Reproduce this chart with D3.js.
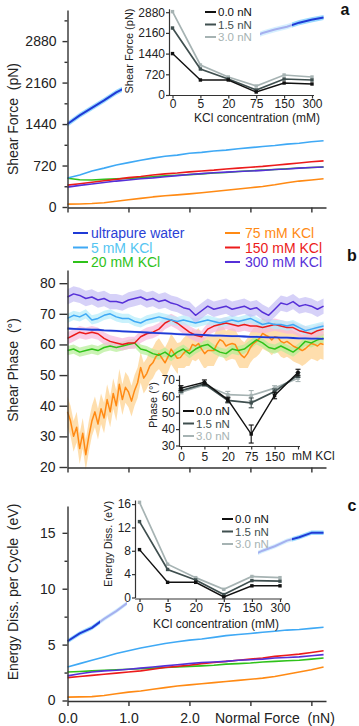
<!DOCTYPE html>
<html lang="en">
<head>
<meta charset="utf-8">
<title>Shear force, phase and energy dissipation vs normal force</title>
<script src="https://cdn.jsdelivr.net/npm/d3@7"></script>
<style>
  body { margin: 0; background: #fff; }
  svg text { white-space: pre; }
</style>
</head>
<body>
<div id="chart"></div>
<script>
// ---------- data ----------
// normal force samples (nN)
var forceA = [0, 0.2, 0.4, 0.6, 0.8, 1.0, 1.2, 1.4, 1.6, 1.8, 2.0, 2.2, 2.4, 2.6, 2.8, 3.0, 3.2, 3.4, 3.6, 3.8, 4.0, 4.2];
var forceB = [0, 0.1, 0.2, 0.3, 0.4, 0.5, 0.6, 0.7, 0.8, 0.9, 1.0, 1.1, 1.2, 1.3, 1.4, 1.5, 1.6, 1.7, 1.8, 1.9,
              2.0, 2.1, 2.2, 2.3, 2.4, 2.5, 2.6, 2.7, 2.8, 2.9, 3.0, 3.1, 3.2, 3.3, 3.4, 3.5, 3.6, 3.7, 3.8, 3.9,
              4.0, 4.1, 4.2];
var forceB75 = d3.range(0, 4.201, 0.05); // 75 mM phase was sampled twice as dense

var saltNames = ["ultrapure water", "5 mM KCl", "20 mM KCl", "75 mM KCl", "150 mM KCl", "300 mM KCl"];

// (a) shear force, pN
var shearWater = [1440, 1590, 1720, 1850, 1990, 2100, 2200, 2300, 2390, 2480, 2560, 2640, 2710, 2780, 2850, 2930, 3020, 3080, 3130, 3200, 3250, 3290];
var shear5   = [503, 555, 625, 675, 730, 770, 812, 848, 880, 900, 932, 948, 972, 988, 1012, 1030, 1050, 1068, 1092, 1108, 1132, 1150];
var shear20  = [500, 472, 470, 480, 490, 497, 510, 525, 540, 552, 562, 575, 590, 600, 615, 630, 640, 652, 665, 676, 686, 695];
var shear75  = [50, 52, 60, 75, 100, 125, 150, 175, 195, 210, 228, 248, 268, 290, 312, 335, 355, 385, 420, 450, 470, 490];
var shear150 = [380, 405, 430, 455, 480, 510, 530, 555, 575, 590, 610, 625, 640, 660, 675, 690, 705, 725, 745, 765, 785, 800];
var shear300 = [345, 375, 400, 425, 450, 470, 490, 505, 525, 545, 565, 580, 595, 605, 615, 625, 635, 650, 660, 675, 685, 695];

// (b) shear phase, degrees
var phaseWater = [65.2, 65.1, 65.0, 64.9, 64.8, 64.8, 64.6, 64.5, 64.4, 64.3, 64.2, 64.1, 64.0, 63.9, 63.8, 63.7, 63.6, 63.5, 63.4, 63.3,
                  63.2, 63.2, 63.1, 63.0, 62.9, 62.9, 62.8, 62.7, 62.7, 62.6, 62.5, 62.5, 62.4, 62.3, 62.3, 62.2, 62.2, 62.1, 62.0, 62.0,
                  61.9, 61.9, 61.8];
var phase5   = [68.5, 69.5, 69, 70, 68, 68.5, 69.5, 70, 69, 68.5, 68.5, 67.5, 67, 68, 68.5, 69, 68.5, 68, 67.5, 68,
                67.5, 67, 67.5, 68, 67.5, 67, 67.5, 68, 67.5, 68, 68.5, 67.5, 66.5, 67, 66.5, 66.5, 66, 66.5, 65.5, 64.5,
                65, 65.5, 66];
var phase20  = [58, 58.5, 57.5, 58, 58.5, 58, 59, 59.5, 59, 59.5, 60, 60.5, 58.5, 58, 57, 56.5, 57.5, 56, 57.5, 58.5,
                57, 58.5, 59.5, 60, 58.5, 57.5, 57, 58.5, 58, 58.5, 60, 61.5, 60.5, 59, 58.5, 59.5, 58.5, 57.5, 59, 61,
                60.5, 61.5, 62];
var phase75  = [38, 35, 30, 33, 26, 31, 24, 30, 35, 38,
                34, 39, 36, 42, 38, 44, 40, 47, 42, 46,
                44.5, 41.5, 45, 47.5, 52.5, 49, 50.5, 53, 54, 56,
                57, 55.5, 54, 56, 58.5, 57, 55.5, 55.7, 57, 58,
                58, 60, 59.5, 60.3, 58.5, 57, 58, 58, 58, 60,
                61.6, 61, 59.5, 60, 60.3, 60, 58, 56.5, 55.7, 57,
                59, 60.3, 61, 62, 63.6, 63, 62.5, 61.5, 62.5, 62.3,
                61, 60.5, 61, 60.3, 59.5, 59, 58.6, 58, 58.6, 59.5,
                60.3, 60, 59.5, 60.3, 60];
var phase150 = [62, 63, 64, 63.5, 64, 63.5, 62, 61, 60.5, 60, 60.5, 60.5, 62.5, 63.5, 64, 65, 67, 68, 67, 65.5,
                64, 63, 62.5, 65, 66, 66.5, 67, 66.5, 66, 66.5, 66, 66, 65.5, 66, 66.5, 66, 65.5, 65.5, 64.5, 64,
                63.5, 64.5, 65];
var phase300 = [75.5, 76.5, 76, 75, 75.5, 74.5, 75, 74, 74, 73.5, 74.5, 75, 75.5, 74.5, 75, 74, 74.5, 73.5, 73, 72,
                71.5, 69.5, 71, 72.5, 71.5, 72, 72.5, 71.5, 72, 72.5, 71.5, 72, 70.5, 69.5, 71.5, 73.5, 73, 74, 72.5, 73,
                72.5, 71.5, 72.5];
// half width of the shaded spread, degrees
var phaseSpread = [0.4, 1.5, 1.5, 5, 2, 2.5];

// (c) energy dissipated per cycle, eV
var energyWater = [5.3, 6.0, 6.5, 7.3, 8.0, 8.8, 9.2, 9.7, 10.1, 10.5, 10.9, 11.3, 11.7, 12.1, 12.5, 12.9, 13.4, 13.8, 14.3, 14.6, 15.0, 15.0];
var energy5   = [3.0, 3.3, 3.6, 3.9, 4.2, 4.45, 4.7, 4.9, 5.1, 5.25, 5.4, 5.5, 5.65, 5.8, 5.9, 6.0, 6.1, 6.2, 6.3, 6.35, 6.45, 6.55];
var energy20  = [2.55, 2.6, 2.65, 2.7, 2.75, 2.8, 2.85, 2.9, 2.95, 3.0, 3.05, 3.1, 3.15, 3.25, 3.3, 3.35, 3.45, 3.5, 3.55, 3.6, 3.7, 3.8];
var energy75  = [0.3, 0.32, 0.35, 0.45, 0.6, 0.75, 0.85, 1.0, 1.15, 1.3, 1.4, 1.5, 1.6, 1.7, 1.8, 1.9, 2.0, 2.15, 2.35, 2.55, 2.75, 3.0];
var energy150 = [2.05, 2.15, 2.25, 2.35, 2.45, 2.55, 2.65, 2.8, 2.95, 3.05, 3.15, 3.3, 3.4, 3.5, 3.6, 3.7, 3.8, 3.95, 4.05, 4.15, 4.3, 4.45];
var energy300 = [2.2, 2.4, 2.55, 2.65, 2.7, 2.8, 2.9, 3.0, 3.1, 3.2, 3.3, 3.4, 3.45, 3.5, 3.6, 3.65, 3.7, 3.8, 3.85, 3.9, 4.0, 4.1];

// insets: value vs KCl concentration at three loads
var kclLabels = ["0", "5", "20", "75", "150", "300"];
var loadNames = ["0.0 nN", "1.5 nN", "3.0 nN"];

var shearIn00 = [1440, 522, 522, 104, 417, 383];
var shearIn15 = [2330, 904, 556, 174, 556, 522];
var shearIn30 = [2900, 1043, 626, 313, 696, 626];

var phaseIn00 = [65, 68.5, 58, 37, 60.5, 74.5];
var phaseIn15 = [63.5, 67.5, 57.5, 56, 63, 73];
var phaseIn30 = [62.5, 67, 61, 60.5, 65, 71];
var phaseErr00 = [1.5, 1.5, 1.5, 5.5, 2, 2];
var phaseErr15 = [1, 1, 1.5, 3, 1.5, 1.5];
var phaseErr30 = [1, 1, 2, 3, 1.5, 2];

var energyIn00 = [8.2, 2.6, 2.6, 0.1, 2.0, 2.0];
var energyIn15 = [13.0, 4.8, 3.0, 0.5, 2.9, 2.8];
var energyIn30 = [16.3, 5.7, 3.4, 1.4, 3.6, 3.4];

// ---------- styles ----------
var FONT = "'Liberation Sans', Arial, Helvetica, sans-serif";
var lineCol = ["#1f3ad6", "#3fa9f5", "#2fc21a", "#ff8a14", "#ec1b1b", "#5630d8"];
var textCol = ["#2a3fd6", "#55c5f2", "#2fc21a", "#ff8a14", "#ec1b1b", "#5630d8"];
var bandCol = ["#b8c4f5", "#b3ecfb", "#b5ee95", "#fdd08a", "#f6b8dc", "#c5bdf5"];
var loadCol = ["#111111", "#3f4f4f", "#a6b3b3"];

var w = 359, h = 726;
var intFmt = d3.format("d");

var svg = d3.select("#chart").append("svg")
    .attr("width", w)
    .attr("height", h)
    .attr("font-family", FONT);

var x = d3.scaleLinear().domain([0, 4.24]).range([67.5, 326]);

function lineGen(xs, yScale) {
    return d3.line()
        .x(function(d, i) { return x(xs[i]); })
        .y(function(d) { return yScale(d); });
}
function areaGen(xs, yScale, spread) {
    return d3.area()
        .x(function(d, i) { return x(xs[i]); })
        .y0(function(d) { return yScale(d - spread); })
        .y1(function(d) { return yScale(d + spread); });
}
function drawLine(g, xs, ys, yScale, color, width) {
    g.append("path").datum(ys)
        .attr("d", lineGen(xs, yScale))
        .attr("fill", "none")
        .attr("stroke", color)
        .attr("stroke-width", width)
        .attr("stroke-linejoin", "round");
}
function drawBand(g, xs, ys, yScale, spread, color, op) {
    g.append("path").datum(ys)
        .attr("d", areaGen(xs, yScale, spread))
        .attr("fill", color)
        .attr("opacity", op);
}
function styleAxis(g, size) {
    g.attr("font-family", FONT).attr("font-size", size);
    g.selectAll("path, line").attr("stroke", "#333").attr("stroke-width", 1.4);
    g.selectAll("text").attr("fill", "#222");
}
function yLabel(txt, cx, cy, size) {
    svg.append("text")
        .attr("transform", "translate(" + cx + "," + cy + ") rotate(-90)")
        .attr("text-anchor", "middle")
        .attr("font-size", size)
        .attr("fill", "#222")
        .text(txt);
}
function whiteBox(x0, y0, x1, y1, op) {
    svg.append("rect").attr("x", x0).attr("y", y0)
        .attr("width", x1 - x0).attr("height", y1 - y0)
        .attr("fill", "#fff").attr("opacity", op);
}
function mainAxes(yScale, yAxisTicks, minorTicks, tickLen, pad, xAxisY, withLabels) {
    var gy = svg.append("g").attr("transform", "translate(67.5,0)")
        .call(d3.axisLeft(yScale).tickValues(yAxisTicks).tickFormat(intFmt)
            .tickSize(tickLen).tickSizeOuter(0).tickPadding(pad));
    styleAxis(gy, 14);
    if (minorTicks) {
        var gm = svg.append("g").attr("transform", "translate(67.5,0)")
            .call(d3.axisLeft(yScale).tickValues(minorTicks).tickSize(3).tickFormat(""));
        gm.select(".domain").remove();
        styleAxis(gm, 14);
    }
    var gx = svg.append("g").attr("transform", "translate(0," + xAxisY + ")")
        .call(d3.axisBottom(x).tickValues([0, 1, 2, 3, 4]).tickSize(5).tickSizeOuter(0).tickPadding(7)
            .tickFormat(function(d) { return withLabels && d < 3 ? d3.format(".1f")(d) : ""; }));
    styleAxis(gx, 14);
}

// inset plot against KCl concentration
function drawInset(o) {
    var g = svg.append("g");
    var xi = d3.scalePoint().domain(kclLabels).range(o.xRange);
    var yi = d3.scaleLinear().domain(o.yDomain).range(o.yRange);

    var gy = g.append("g").attr("transform", "translate(" + o.axisX + ",0)")
        .call(d3.axisLeft(yi).tickValues(o.yTicks).tickFormat(intFmt)
            .tickSize(3).tickSizeOuter(0).tickPadding(1));
    styleAxis(gy, 12);
    gy.selectAll("path, line").attr("stroke-width", 1.2);

    g.append("line")
        .attr("x1", o.axisX).attr("x2", o.xRange[1] + 2)
        .attr("y1", o.xAxisY).attr("y2", o.xAxisY)
        .attr("stroke", "#333").attr("stroke-width", 1.2);
    var gx = g.append("g").attr("transform", "translate(0," + o.xAxisY + ")")
        .call(d3.axisBottom(xi).tickSize(3).tickSizeOuter(0).tickPadding(o.xPad)
            .tickFormat(function(d) { return o.hideLast && d === "300" ? "" : d; }));
    gx.select(".domain").remove();
    styleAxis(gx, 12);
    gx.selectAll("line").attr("stroke-width", 1.2);

    var line = d3.line()
        .x(function(d, i) { return xi(kclLabels[i]); })
        .y(function(d) { return yi(d); });

    for (var k = 2; k >= 0; k--) {
        var vals = o.series[k];
        if (o.errors) {
            var err = o.errors[k];
            var eb = g.append("g").attr("stroke", loadCol[k]).attr("stroke-width", 1.1);
            vals.forEach(function(v, i) {
                var cx = xi(kclLabels[i]);
                eb.append("line").attr("x1", cx).attr("x2", cx)
                    .attr("y1", yi(v - err[i])).attr("y2", yi(v + err[i]));
                eb.append("line").attr("x1", cx - 2.5).attr("x2", cx + 2.5)
                    .attr("y1", yi(v - err[i])).attr("y2", yi(v - err[i]));
                eb.append("line").attr("x1", cx - 2.5).attr("x2", cx + 2.5)
                    .attr("y1", yi(v + err[i])).attr("y2", yi(v + err[i]));
            });
        }
        g.append("path").datum(vals)
            .attr("d", line)
            .attr("fill", "none")
            .attr("stroke", loadCol[k])
            .attr("stroke-width", k === 0 ? 1.4 : 1.7);
        g.selectAll(null).data(vals).enter().append("rect")
            .attr("x", function(d, i) { return xi(kclLabels[i]) - 1.7; })
            .attr("y", function(d) { return yi(d) - 1.7; })
            .attr("width", 3.4).attr("height", 3.4)
            .attr("fill", loadCol[k]);
    }

    // legend
    loadNames.forEach(function(name, k) {
        var ly = o.legendRows[k];
        g.append("line")
            .attr("x1", o.legendX).attr("x2", o.legendX + 11)
            .attr("y1", ly).attr("y2", ly)
            .attr("stroke", loadCol[k]).attr("stroke-width", 2);
        g.append("text")
            .attr("x", o.legendX + 13).attr("y", ly + 4)
            .attr("font-size", 11.5)
            .attr("fill", loadCol[k])
            .text(name);
    });

    yLabel(o.yTitle, o.yTitleX, o.yTitleY, 11);
    if (o.xTitle) {
        g.append("text")
            .attr("x", o.xTitle[1]).attr("y", o.xTitle[2])
            .attr("text-anchor", o.xTitle[3])
            .attr("font-size", 12)
            .attr("fill", "#222")
            .text(o.xTitle[0]);
    }
}

// ================= panel a =================
var yA = d3.scaleLinear().domain([0, 3420]).range([207, 10]);
var gA = svg.append("g");
drawBand(gA, forceA, shearWater, yA, 45, "#8fd6ff", 0.9);
drawLine(gA, forceA, shear75, yA, lineCol[3], 1.6);
drawLine(gA, forceA, shear20, yA, lineCol[2], 1.6);
drawLine(gA, forceA, shear150, yA, lineCol[4], 1.6);
drawLine(gA, forceA, shear300, yA, lineCol[5], 1.6);
drawLine(gA, forceA, shear5, yA, lineCol[1], 1.6);
drawLine(gA, forceA, shearWater, yA, lineCol[0], 2);

whiteBox(122, 0, 260, 126, 1);
whiteBox(260, 0, 292, 42, 0.6);

drawInset({
    xRange: [172.5, 312], yDomain: [0, 3000], yRange: [95, 8.75],
    yTicks: [0, 720, 1440, 2160, 2880], axisX: 169, xAxisY: 95.5, xPad: 1,
    series: [shearIn00, shearIn15, shearIn30],
    legendX: 205, legendRows: [12, 24.5, 37],
    yTitle: "Shear Force (pN)", yTitleX: 133, yTitleY: 51,
    xTitle: ["KCl concentration (mM)", 257, 122, "middle"]
});

mainAxes(yA, [0, 720, 1440, 2160, 2880], [360, 1080, 1800, 2520, 3240], 5, 6, 207.5, false);
yLabel("Shear Force  (pN)", 18, 119, 14);

// ================= panel b =================
var yB = d3.scaleLinear().domain([20, 84.3]).range([467, 270]);
var gB = svg.append("g");
var phaseSets = [phaseWater, phase5, phase20, phase75, phase150, phase300];
[3, 2, 4, 1, 0, 5].forEach(function(s) {
    var xs = s === 3 ? forceB75 : forceB;
    drawBand(gB, xs, phaseSets[s], yB, phaseSpread[s], bandCol[s], 0.7);
});
[3, 2, 4, 1, 0, 5].forEach(function(s) {
    var xs = s === 3 ? forceB75 : forceB;
    drawLine(gB, xs, phaseSets[s], yB, lineCol[s], s === 0 ? 1.8 : 1.5);
});

whiteBox(178, 368, 336, 466, 1);

drawInset({
    xRange: [181, 298], yDomain: [30, 73], yRange: [445.5, 375],
    yTicks: [30, 40, 50, 60, 70], axisX: 179, xAxisY: 446.5, xPad: 2.5, hideLast: true,
    series: [phaseIn00, phaseIn15, phaseIn30],
    errors: [phaseErr00, phaseErr15, phaseErr30],
    legendX: 183, legendRows: [411, 423.5, 436],
    yTitle: "Phase (°)", yTitleX: 157, yTitleY: 405,
    xTitle: ["mM KCl", 292, 460, "start"]
});

mainAxes(yB, [20, 30, 40, 50, 60, 70, 80], null, 8, 4, 467.5, false);
yLabel("Shear Phase  (°)", 18, 370, 14);

// legend of salt solutions
var legendPos = [[73, 233], [73, 247.5], [73, 262], [225, 233], [225, 247.5], [225, 262]];
saltNames.forEach(function(name, s) {
    var p = legendPos[s];
    svg.append("line")
        .attr("x1", p[0]).attr("x2", p[0] + 15)
        .attr("y1", p[1]).attr("y2", p[1])
        .attr("stroke", lineCol[s]).attr("stroke-width", 2);
    svg.append("text")
        .attr("x", p[0] + (s < 3 ? 18 : 20)).attr("y", p[1] + 5)
        .attr("font-size", 14)
        .attr("fill", textCol[s])
        .text(name);
});

// ================= panel c =================
var yC = d3.scaleLinear().domain([0, 17.4]).range([700.5, 506]);
var gC = svg.append("g");
drawBand(gC, forceA, energyWater, yC, 0.2, "#8fd6ff", 0.9);
drawLine(gC, forceA, energy75, yC, lineCol[3], 1.6);
drawLine(gC, forceA, energy20, yC, lineCol[2], 1.6);
drawLine(gC, forceA, energy150, yC, lineCol[4], 1.6);
drawLine(gC, forceA, energy300, yC, lineCol[5], 1.6);
drawLine(gC, forceA, energy5, yC, lineCol[1], 1.6);
drawLine(gC, forceA, energyWater, yC, lineCol[0], 2);

whiteBox(100, 485, 127, 632, 0.6);
whiteBox(127, 485, 258, 632, 1);
whiteBox(258, 485, 292, 560, 0.6);

drawInset({
    xRange: [139.5, 280], yDomain: [0, 16.7], yRange: [597.5, 500],
    yTicks: [0, 4, 8, 12, 16], axisX: 135, xAxisY: 599, xPad: 1.5,
    series: [energyIn00, energyIn15, energyIn30],
    legendX: 222, legendRows: [519, 531.5, 544],
    yTitle: "Energy Diss. (eV)", yTitleX: 112, yTitleY: 544,
    xTitle: ["KCl concentration (mM)", 216, 628, "middle"]
});

mainAxes(yC, [0, 5, 10, 15], [2.5, 7.5, 12.5], 5, 7, 701, true);
yLabel("Energy Diss. per Cycle  (eV)", 18, 592, 14);

svg.append("text").attr("x", 215).attr("y", 723)
    .attr("font-size", 14).attr("fill", "#222")
    .text("Normal Force  (nN)");

// panel letters
[["a", 345, 15], ["b", 352, 261], ["c", 352, 511]].forEach(function(p) {
    svg.append("text")
        .attr("x", p[1]).attr("y", p[2])
        .attr("text-anchor", "middle")
        .attr("font-size", 16)
        .attr("font-weight", "bold")
        .attr("fill", "#111")
        .text(p[0]);
});
</script>
</body>
</html>
